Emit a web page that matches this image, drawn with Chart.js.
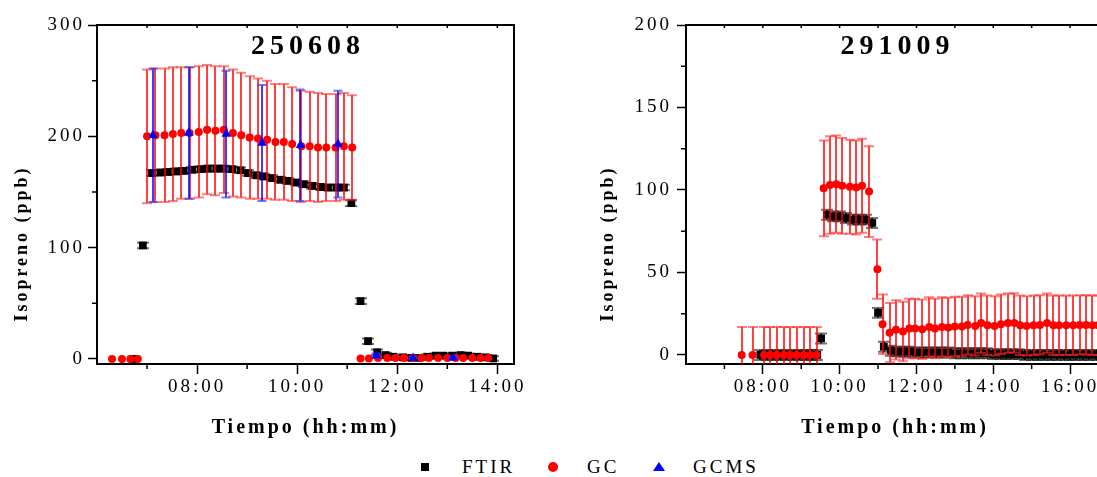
<!DOCTYPE html>
<html>
<head>
<meta charset="utf-8">
<script src="https://cdn.jsdelivr.net/npm/chart.js@4.4.1/dist/chart.umd.min.js"></script>
<style>
  html, body { margin: 0; padding: 0; background: #fff; }
  body { position: relative; width: 1097px; height: 477px; overflow: hidden; font-family: "Liberation Serif", serif; }
  canvas { position: absolute; top: 0; }
  #left { left: 0; }
  #right { left: 590px; }
  .lg { position: absolute; top: 455px; font-size: 19px; letter-spacing: 3px; line-height: 24px; color: #000; }
  .mk { position: absolute; }
</style>
</head>
<body>
<canvas id="left" width="560" height="450"></canvas>
<canvas id="right" width="530" height="450"></canvas>

<div class="mk" style="left:421px;top:463px;width:8px;height:8px;background:#000"></div>
<span class="lg" style="left:462px">FTIR</span>
<div class="mk" style="left:548px;top:462px;width:10px;height:10px;border-radius:50%;background:#f00"></div>
<span class="lg" style="left:587px">GC</span>
<div class="mk" style="left:653px;top:462px;width:0;height:0;border-left:6px solid transparent;border-right:6px solid transparent;border-bottom:9px solid #00f"></div>
<span class="lg" style="left:693px">GCMS</span>

<script>
// títulos de cada panel
const leftTitle = '250608';
const rightTitle = '291009';
const xTitle = 'Tiempo (hh:mm)';
const yTitle = 'Isopreno (ppb)';

// ---- 250608 ----
const leftFtirTime = ['06:43', '06:55',
  '07:06', '07:16', '07:25', '07:35', '07:44', '07:54', '08:04', '08:13', '08:23', '08:32', '08:42', '08:52', '09:01',
  '09:11', '09:20', '09:30', '09:40', '09:49', '09:59', '10:08', '10:18', '10:28', '10:37', '10:47', '10:56',
  '11:05', '11:16', '11:25', '11:36', '11:46', '11:55', '12:07', '12:17', '12:25', '12:36', '12:46', '12:55',
  '13:06', '13:16', '13:25', '13:36', '13:46', '13:55'];
const leftFtirValue = [0, 102,
  167, 167.5, 168, 168.5, 169, 170, 170.5, 171, 171, 171, 170.5, 169.5, 167,
  165, 164, 162.5, 161, 160, 158.5, 157, 155.5, 154.5, 154, 154, 154,
  140, 52, 16, 6, 3.5, 2, 1.5, 1, 1, 2, 3, 3,
  3, 3.5, 3, 2, 1.5, 0.5];
const leftFtirError = [2, 2.5,
  2.5, 2.5, 2.5, 2.5, 2.5, 2.5, 2.5, 2.5, 2.5, 2.5, 2.5, 2.5, 2.5,
  2.5, 2.5, 2.5, 2.5, 2.5, 2.5, 2.5, 2.5, 2.5, 2.5, 2.5, 2.5,
  2.5, 2.5, 2.5, 2.5, 2, 2, 2, 2, 2, 2, 2, 2,
  2, 2, 2, 2, 2, 2];

const leftGcTime = ['06:18', '06:30', '06:40', '06:49',
  '07:00', '07:10', '07:21', '07:31', '07:41', '07:51', '08:02', '08:12', '08:22', '08:32', '08:43', '08:53', '09:03',
  '09:13', '09:24', '09:34', '09:44', '09:54', '10:05', '10:15', '10:25', '10:35', '10:46', '10:56', '11:06',
  '11:16', '11:26', '11:37', '11:48', '11:58', '12:08', '12:19', '12:29', '12:38', '12:49', '13:00', '13:10',
  '13:19', '13:30', '13:40', '13:49'];
const leftGcValue = [0, 0, 0, 0,
  200, 201, 201, 202, 203, 203, 204, 206, 205, 206, 203, 201, 199,
  198, 197, 195, 195, 193, 191, 191, 190, 190, 190, 191, 190,
  0.5, 0.5, 1, 1, 1, 1, 1, 1, 1, 1, 1, 1,
  1, 1, 1, 1];
const leftGcError = [0, 0, 0, 0,
  60, 60, 60, 60, 59, 59, 59, 58, 58, 57, 57, 56, 55,
  54, 53, 52, 52, 51, 50, 49, 49, 48, 48, 48, 47,
  0, 0, 0, 0, 0, 0, 0, 0, 0, 0, 0, 0,
  0, 0, 0, 0];

const leftGcmsTime = ['07:07', '07:50', '08:35', '09:18', '10:04', '10:49', '11:35', '12:19', '13:07'];
const leftGcmsValue = [201, 203, 202, 194, 192, 193, 3, 1, 1];
const leftGcmsError = [60, 59, 57, 52, 50, 48, 2, 1, 1];

// ---- 291009 ----
const rightFtirTime = ['07:56', '08:06', '08:16', '08:27', '08:37', '08:47', '08:57', '09:07', '09:17', '09:25', '09:31',
  '09:40', '09:50', '10:00', '10:10', '10:21', '10:31', '10:41', '10:51', '11:00', '11:09',
  '11:20', '11:30', '11:40', '11:50', '12:00', '12:10', '12:20', '12:30', '12:40', '12:50', '13:00', '13:10',
  '13:20', '13:30', '13:40', '13:50', '14:00', '14:10', '14:20', '14:30', '14:40', '14:50', '15:00', '15:10',
  '15:20', '15:30', '15:40', '15:50', '16:00', '16:10', '16:20', '16:30', '16:40', '16:50'];
const rightFtirValue = [0, 0, 0, 0, 0, 0, 0, 0, 0, 0, 10,
  85, 84, 84, 83, 82, 82, 82, 80, 25.5, 5,
  2.5, 2, 2, 2, 1.5, 1.5, 1.5, 1.5, 1.5, 1.5, 1, 1,
  1, 1, 1, 1, 0.5, 0.5, 0.5, 0.5, 0.5, 0, 0, 0,
  0, 0, 0, 0, 0, 0, 0, 0, 0, 0];
const rightFtirError = [3, 3, 3, 3, 3, 3, 3, 3, 3, 3, 3,
  3, 3, 3, 3, 3, 3, 3, 3, 3, 3,
  3, 3, 3, 3, 3, 3, 3, 3, 3, 3, 3, 3,
  3, 3, 3, 3, 3, 3, 3, 3, 3, 3, 3, 3,
  3, 3, 3, 3, 3, 3, 3, 3, 3, 3];

const rightGcTime = ['07:27', '07:44', '08:02', '08:12', '08:22', '08:33', '08:43', '08:53', '09:04', '09:14', '09:24',
  '09:35', '09:45', '09:55', '10:04', '10:16', '10:26', '10:35', '10:46', '10:59',
  '11:07', '11:18', '11:28', '11:39', '11:49', '11:58', '12:09', '12:20', '12:29', '12:40', '12:50', '13:00',
  '13:11', '13:20', '13:32', '13:41', '13:51', '14:02', '14:12', '14:23', '14:33', '14:42', '14:52', '15:03',
  '15:13', '15:24', '15:34', '15:43', '15:54', '16:05', '16:15', '16:25', '16:35', '16:44'];
const rightGcValue = [0, 0, 0, 0, 0, 0, 0, 0, 0, 0, 0,
  101, 103, 103.5, 102.5, 102, 101.5, 102.5, 99, 52,
  18.6, 13.5, 15.2, 14.2, 16, 16, 15.6, 17, 16, 17, 16.6, 17.2,
  17.2, 18.2, 17.6, 19.3, 18, 17.6, 18.6, 19.3, 19.4, 18, 17.6, 18,
  18.2, 19.3, 18, 18, 18, 18, 18.2, 18.2, 18, 18];
const rightGcError = [17, 17, 17, 17, 17, 17, 17, 17, 17, 17, 17,
  29, 29.5, 29.5, 29, 28.5, 28.5, 28.5, 27.5, 18,
  18, 18, 18, 18, 18, 18, 18, 18, 18, 18, 18, 18,
  18, 18, 18, 18, 18, 18, 18, 18, 18, 18, 18, 18,
  18, 18, 18, 18, 18, 18, 18, 18, 18, 18];

// ejes
const leftXRange = ['06:00', '14:20'];
const leftXMajor = ['08:00', '10:00', '12:00', '14:00'];
const leftXMinor = ['07:00', '09:00', '11:00', '13:00'];
const leftYRange = [-4.5, 300];
const leftYMajor = [0, 100, 200, 300];
const leftYMinor = [50, 150, 250];

const rightXRange = ['06:00', '16:53'];
const rightXMajor = ['08:00', '10:00', '12:00', '14:00', '16:00'];
const rightXMinor = ['07:00', '09:00', '11:00', '13:00', '15:00'];
const rightYRange = [-5.5, 200];
const rightYMajor = [0, 50, 100, 150, 200];
const rightYMinor = [25, 75, 125, 175];

const toMin = s => { const [h, m] = s.split(':').map(Number); return h * 60 + m; };
const fmtTime = v => String(Math.floor(v / 60)).padStart(2, '0') + ':' + String(Math.round(v % 60)).padStart(2, '0');
const series = (times, values) => times.map((t, i) => ({ x: toMin(t), y: values[i] }));

Chart.defaults.font.family = '"Liberation Serif", serif';
Chart.defaults.color = '#000';

// barras de error, dibujadas con las escalas del gráfico
const errorBars = {
  id: 'errorBars',
  beforeDatasetDraw(chart, args) {
    const ds = chart.data.datasets[args.index];
    if (!ds.errors) return;
    const { ctx, chartArea: a, scales: { x, y } } = chart;
    ctx.save();
    ctx.beginPath();
    ctx.rect(a.left, a.top, a.right - a.left, a.bottom - a.top);
    ctx.clip();
    ds.data.forEach((p, i) => {
      const e = ds.errors[i];
      if (!e) return;
      const px = Math.round(x.getPixelForValue(p.x));
      const top = y.getPixelForValue(p.y + e);
      const bot = y.getPixelForValue(p.y - e);
      const w = ds.capWidth / 2;
      ctx.strokeStyle = ds.errorColor;
      ctx.lineWidth = 1.5;
      ctx.beginPath();
      ctx.moveTo(px, top); ctx.lineTo(px, bot);
      ctx.stroke();
      ctx.strokeStyle = ds.capColor;
      ctx.lineWidth = 2;
      ctx.beginPath();
      ctx.moveTo(px - w, top); ctx.lineTo(px + w, top);
      ctx.moveTo(px - w, bot); ctx.lineTo(px + w, bot);
      ctx.stroke();
    });
    ctx.restore();
  }
};

// marco, ticks menores, títulos y espaciado de letras
const frame = {
  id: 'frame',
  beforeDraw(chart) {
    chart.ctx.letterSpacing = '3px';
  },
  afterDraw(chart, args, opts) {
    const { ctx, chartArea: a, scales: { x, y } } = chart;
    ctx.save();
    ctx.strokeStyle = '#000';
    ctx.lineWidth = 2;
    ctx.beginPath();
    ctx.moveTo(a.left, a.top); ctx.lineTo(a.right, a.top); ctx.lineTo(a.right, a.bottom);
    ctx.stroke();
    ctx.lineWidth = 1.5;
    ctx.beginPath();
    opts.xMinor.forEach(t => {
      const px = x.getPixelForValue(toMin(t));
      ctx.moveTo(px, a.bottom); ctx.lineTo(px, a.bottom + 5);
    });
    opts.xMinor.concat(opts.xMajor).forEach(t => {
      const px = x.getPixelForValue(toMin(t));
      ctx.moveTo(px, a.top); ctx.lineTo(px, a.top + 3);
    });
    opts.yMinor.forEach(v => {
      const py = y.getPixelForValue(v);
      ctx.moveTo(a.left - 5, py); ctx.lineTo(a.left, py);
    });
    ctx.stroke();

    ctx.fillStyle = '#000';
    ctx.textAlign = 'center';
    ctx.textBaseline = 'middle';
    ctx.letterSpacing = '5px';
    ctx.font = 'bold 28px "Liberation Serif", serif';
    ctx.fillText(opts.title, (a.left + a.right) / 2 + 2.5, 47);

    ctx.letterSpacing = '3px';
    ctx.font = 'bold 18px "Liberation Serif", serif';
    ctx.translate(opts.yTitleX, 245);
    ctx.rotate(-Math.PI / 2);
    ctx.fillText(yTitle, 1.5, 0);
    ctx.restore();
  }
};

function makePanel(id, p) {
  const datasets = [
    { label: 'GCMS', data: series(p.gcmsTime, p.gcmsValue), errors: p.gcmsError, order: 1,
      pointStyle: 'triangle', pointRadius: 5.5, backgroundColor: '#0000ff', borderWidth: 0,
      errorColor: '#0000ff', capColor: 'rgba(60,60,255,0.7)', capWidth: 9 },
    { label: 'GC', data: series(p.gcTime, p.gcValue), errors: p.gcError, order: 2,
      pointStyle: 'circle', pointRadius: 4, backgroundColor: '#ff0000', borderWidth: 0,
      errorColor: '#ff0000', capColor: 'rgba(255,40,40,0.6)', capWidth: 10 },
    { label: 'FTIR', data: series(p.ftirTime, p.ftirValue), errors: p.ftirError, order: 3,
      pointStyle: 'rect', pointRadius: 5.5, backgroundColor: '#000', borderWidth: 0,
      errorColor: '#000', capColor: 'rgba(0,0,0,0.55)', capWidth: 12 }
  ].filter(d => d.data.length);

  return new Chart(document.getElementById(id), {
    type: 'scatter',
    data: { datasets },
    plugins: [errorBars, frame],
    options: {
      responsive: false,
      animation: false,
      layout: { padding: p.padding },
      plugins: {
        legend: { display: false },
        tooltip: { enabled: false },
        frame: { title: p.title, xMinor: p.xMinor, xMajor: p.xMajor, yMinor: p.yMinor, yTitleX: p.yTitleX }
      },
      scales: {
        x: {
          type: 'linear',
          min: toMin(p.xRange[0]), max: toMin(p.xRange[1]),
          afterBuildTicks: s => { s.ticks = p.xMajor.map(t => ({ value: toMin(t) })); },
          afterFit: s => { s.height = 76; },
          grid: { drawOnChartArea: false, tickLength: 10, tickWidth: 1.5, tickColor: '#000' },
          border: { color: '#000', width: 2 },
          ticks: { callback: v => fmtTime(v), font: { size: 19 }, color: '#000', padding: 2, maxRotation: 0, autoSkip: false },
          title: { display: true, text: xTitle, font: { size: 20, weight: 'bold' }, color: '#000', padding: { top: 0, bottom: 0 } }
        },
        y: {
          min: p.yRange[0], max: p.yRange[1],
          afterBuildTicks: s => { s.ticks = p.yMajor.map(v => ({ value: v })); },
          afterFit: s => { s.width = p.yWidth; },
          grid: { drawOnChartArea: false, tickLength: 9, tickWidth: 1.5, tickColor: '#000' },
          border: { color: '#000', width: 2 },
          ticks: { callback: v => String(v), font: { size: 19 }, color: '#000', padding: p.yPad }
        }
      }
    }
  });
}

makePanel('left', {
  title: leftTitle,
  ftirTime: leftFtirTime, ftirValue: leftFtirValue, ftirError: leftFtirError,
  gcTime: leftGcTime, gcValue: leftGcValue, gcError: leftGcError,
  gcmsTime: leftGcmsTime, gcmsValue: leftGcmsValue, gcmsError: leftGcmsError,
  xRange: leftXRange, xMajor: leftXMajor, xMinor: leftXMinor,
  yRange: leftYRange, yMajor: leftYMajor, yMinor: leftYMinor,
  padding: { top: 25, right: 46, bottom: 10, left: 0 }, yWidth: 97, yPad: 3, yTitleX: 22
});

makePanel('right', {
  title: rightTitle,
  ftirTime: rightFtirTime, ftirValue: rightFtirValue, ftirError: rightFtirError,
  gcTime: rightGcTime, gcValue: rightGcValue, gcError: rightGcError,
  gcmsTime: [], gcmsValue: [], gcmsError: [],
  xRange: rightXRange, xMajor: rightXMajor, xMinor: rightXMinor,
  yRange: rightYRange, yMajor: rightYMajor, yMinor: rightYMinor,
  padding: { top: 25, right: 16, bottom: 10, left: 0 }, yWidth: 96, yPad: 5, yTitleX: 18
});
</script>
</body>
</html>
